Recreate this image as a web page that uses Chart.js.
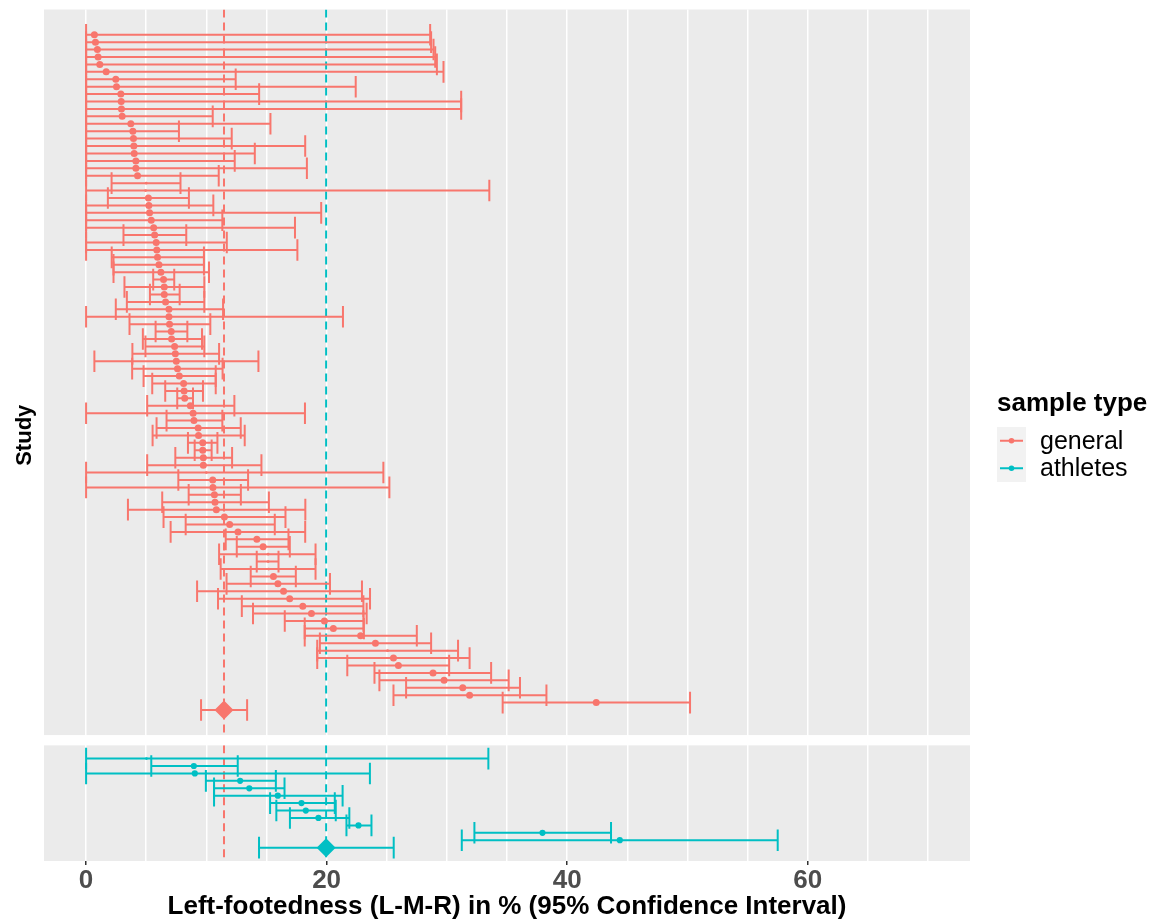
<!DOCTYPE html>
<html><head><meta charset="utf-8">
<script src="https://cdn.jsdelivr.net/npm/chart.js@4/dist/chart.umd.min.js"></script>
<style>html,body{margin:0;padding:0;background:#fff;} #wrap{width:1163px;height:921px;position:relative;}</style>
</head><body><div id="wrap"><canvas id="c" width="1163" height="921"></canvas></div>
<script>
// ---------------- data ----------------
const sampleTypes = ['general', 'athletes'];
const generalEst = [0.69,0.78,0.94,1.00,1.14,1.67,2.47,2.53,2.89,2.92,2.94,3.00,3.72,3.89,3.94,3.97,4.00,4.14,4.14,4.28,
 5.00,4.95,5.18,5.22,5.28,5.42,5.62,5.70,5.83,5.88,5.94,6.06,6.22,6.44,6.50,6.50,6.61,6.89,6.89,6.94,
 7.08,7.11,7.36,7.42,7.50,7.60,7.75,8.11,8.15,8.20,8.67,8.90,8.97,9.32,9.35,9.70,9.70,9.75,9.75,10.00,
 10.53,10.55,10.67,10.72,10.83,11.50,11.94,12.63,14.20,14.72,15.14,15.14,15.19,15.58,15.95,16.42,16.93,18.02,18.74,19.82,
 20.56,22.83,24.06,25.07,25.56,25.97,28.85,29.77,31.32,31.89,42.42];
const generalLo = [0,0,0,0,0,0,0,0,0,0,0,0,0,0,0,0,0,0,0,0,
 2.12,0,1.81,0,0,0,0,3.11,0,0,2.13,2.28,2.28,5.58,3.19,5.31,3.39,2.47,0,3.61,
 5.78,4.72,4.94,3.85,0.69,3.83,4.78,5.50,6.58,7.58,5.08,0,6.69,5.86,5.53,8.47,9.03,7.42,5.08,0,
 7.67,0,8.53,6.33,3.48,6.44,8.28,7.03,11.61,12.53,11.06,14.19,11.19,13.69,11.68,9.23,10.97,12.95,13.88,16.52,
 18.18,18.18,19.44,19.22,19.22,21.72,23.98,24.39,26.61,25.56,34.64];
const generalHi = [28.61,28.69,28.89,29.03,29.17,29.72,12.44,22.42,14.39,31.19,31.19,10.53,15.33,7.72,12.11,18.22,14.03,12.36,18.36,11.03,
 7.85,33.53,8.55,10.58,19.55,11.33,17.37,8.33,11.70,17.57,9.80,9.80,10.22,7.33,9.83,7.78,9.83,11.39,21.36,10.33,
 8.42,9.64,9.83,11.06,14.33,11.35,10.78,10.78,9.72,8.89,12.33,18.20,11.33,12.86,13.19,10.92,10.44,12.14,14.58,24.72,
 13.47,25.22,12.87,15.20,18.23,16.58,15.69,18.22,16.83,16.94,19.08,16.00,19.08,17.44,20.28,22.94,23.61,23.06,23.33,23.06,
 23.10,27.50,28.69,30.93,31.89,30.19,33.68,35.14,36.08,38.28,50.22];
const generalTinyStudies = [21,22,60,71,72,73,84];

const athletesEst = [5.02,8.96,9.04,12.81,13.57,15.94,17.91,18.27,19.32,22.65,37.95,44.38];
const athletesLo  = [0,5.42,0,9.96,10.64,10.64,15.30,15.82,16.95,21.65,32.29,31.24];
const athletesHi  = [33.45,12.61,23.60,15.78,16.50,21.33,20.68,20.76,21.89,23.73,43.65,57.51];
const athletesTinyStudies = [1];

const pooledEst = [11.47, 19.96];
const pooledLo  = [9.56, 14.38];
const pooledHi  = [13.39, 25.58];

const xGridValues  = [0,5,10,15,20,25,30,35,40,45,50,55,60,65,70];
const xLabelValues = [0,20,40,60];
const xTitle = 'Left-footedness (L-M-R) in % (95% Confidence Interval)';
const yTitle = 'Study';
const legendTitle = 'sample type';

// ---------------- layout (row units) ----------------
const COLORS = {general: '#F8766D', athletes: '#00BFC4'};
const TOP_PAD = 3.4, TOP_SPAN = 2 * 3.4 + generalEst.length;
const GAP = 1.345;
const BOT_PAD = 1.8, BOT_SPAN = 2 * 1.8 + athletesEst.length;
const Y_TOTAL = TOP_SPAN + GAP + BOT_SPAN;
const CAP = 10.8;
const FONT = '"Liberation Sans", Arial, sans-serif';

const topRow = i => TOP_PAD + i;
const botRow = i => TOP_SPAN + GAP + BOT_PAD + i;

const genPoints = generalEst.map((v, i) => ({x: v, y: topRow(i)}));
const athPoints = athletesEst.map((v, i) => ({x: v, y: botRow(i)}));
const genBars = generalEst.map((v, i) => ({y: topRow(i), lo: generalLo[i], hi: generalHi[i]}));
const athBars = athletesEst.map((v, i) => ({y: botRow(i), lo: athletesLo[i], hi: athletesHi[i]}));
const poolPts = [
  {x: pooledEst[0], y: topRow(generalEst.length)},
  {x: pooledEst[1], y: botRow(athletesEst.length)}
];
const poolBars = [
  {y: poolPts[0].y, lo: pooledLo[0], hi: pooledHi[0], color: COLORS.general},
  {y: poolPts[1].y, lo: pooledLo[1], hi: pooledHi[1], color: COLORS.athletes}
];
const vline = m => [{x: m, y: 0}, {x: m, y: TOP_SPAN}, {x: m, y: null}, {x: m, y: TOP_SPAN + GAP}, {x: m, y: Y_TOTAL}];

// ---------------- plugins ----------------
const panelPlugin = {
  id: 'panels',
  beforeDraw(chart) {
    const {ctx, chartArea: a, scales: {y}} = chart;
    ctx.save();
    ctx.fillStyle = '#EBEBEB';
    const t0 = y.getPixelForValue(0), t1 = y.getPixelForValue(TOP_SPAN);
    const b0 = y.getPixelForValue(TOP_SPAN + GAP), b1 = y.getPixelForValue(Y_TOTAL);
    ctx.fillRect(a.left, t0, a.right - a.left, t1 - t0);
    ctx.fillRect(a.left, b0, a.right - a.left, b1 - b0);
    ctx.restore();
  },
  afterDatasetsDraw(chart) {
    const {ctx, chartArea: a, scales: {y}} = chart;
    ctx.save();
    ctx.fillStyle = '#FFFFFF';
    const g0 = y.getPixelForValue(TOP_SPAN), g1 = y.getPixelForValue(TOP_SPAN + GAP);
    ctx.fillRect(a.left, g0, a.right - a.left, g1 - g0);
    ctx.restore();
  }
};

const errorBarPlugin = {
  id: 'errorBars',
  beforeDatasetDraw(chart, args) {
    const ds = chart.data.datasets[args.index];
    if (!ds.errorBars) return;
    const {ctx, scales: {x, y}} = chart;
    ctx.save();
    ctx.lineWidth = 2;
    ds.errorBars.forEach(b => {
      const py = y.getPixelForValue(b.y);
      const x0 = x.getPixelForValue(b.lo), x1 = x.getPixelForValue(b.hi);
      ctx.strokeStyle = b.color || ds.borderColor;
      ctx.beginPath();
      ctx.moveTo(x0, py); ctx.lineTo(x1, py);
      ctx.moveTo(x0, py - CAP); ctx.lineTo(x0, py + CAP);
      ctx.moveTo(x1, py - CAP); ctx.lineTo(x1, py + CAP);
      ctx.stroke();
    });
    ctx.restore();
  }
};

const legendPlugin = {
  id: 'ggLegend',
  afterDraw(chart) {
    const ctx = chart.ctx;
    ctx.save();
    ctx.textBaseline = 'middle';
    ctx.textAlign = 'left';
    ctx.fillStyle = '#000';
    ctx.font = 'bold 26px ' + FONT;
    ctx.fillText(legendTitle, 997, 404);
    const keyX = 997, keyW = 29, keyH = 27.5, keyTop = 427;
    ctx.fillStyle = '#F2F2F2';
    ctx.fillRect(keyX, keyTop, keyW, keyH * sampleTypes.length);
    sampleTypes.forEach((s, i) => {
      const cy = keyTop + keyH * (i + 0.5);
      ctx.strokeStyle = COLORS[s];
      ctx.lineWidth = 2;
      ctx.beginPath(); ctx.moveTo(keyX + 3, cy); ctx.lineTo(keyX + keyW - 3, cy); ctx.stroke();
      ctx.fillStyle = COLORS[s];
      ctx.beginPath(); ctx.arc(keyX + keyW / 2, cy, 2.8, 0, Math.PI * 2); ctx.fill();
      ctx.fillStyle = '#000';
      ctx.font = '25px ' + FONT;
      ctx.fillText(s, 1040, cy + 1);
    });
    ctx.restore();
  }
};

// ---------------- chart ----------------
const ctx = document.getElementById('c').getContext('2d');
new Chart(ctx, {
  type: 'scatter',
  data: {
    datasets: [
      {label: 'mean general', data: vline(pooledEst[0]), showLine: true, borderColor: COLORS.general,
       borderWidth: 2, borderDash: [8, 5], pointRadius: 0, spanGaps: false, order: 5},
      {label: 'mean athletes', data: vline(pooledEst[1]), showLine: true, borderColor: COLORS.athletes,
       borderWidth: 2, borderDash: [8, 5], pointRadius: 0, spanGaps: false, order: 5},
      {label: 'general', data: genPoints, errorBars: genBars, borderColor: COLORS.general,
       backgroundColor: COLORS.general, pointBorderWidth: 0,
       pointRadius: c => generalTinyStudies.includes(c.dataIndex + 1) ? 1.4 : 3.5, order: 3},
      {label: 'athletes', data: athPoints, errorBars: athBars, borderColor: COLORS.athletes,
       backgroundColor: COLORS.athletes, pointBorderWidth: 0,
       pointRadius: c => athletesTinyStudies.includes(c.dataIndex + 1) ? 1.4 : 3.1, order: 3},
      {label: 'pooled', data: poolPts, errorBars: poolBars, pointStyle: 'rectRot',
       backgroundColor: [COLORS.general, COLORS.athletes], borderColor: [COLORS.general, COLORS.athletes],
       pointBorderWidth: 0, pointRadius: 9.5, order: 1}
    ]
  },
  options: {
    responsive: false,
    animation: false,
    devicePixelRatio: 1,
    layout: {padding: {left: 8, right: 193, top: 8, bottom: 0}},
    plugins: {legend: {display: false}, tooltip: {enabled: false}},
    elements: {point: {hoverRadius: 0}},
    scales: {
      x: {
        type: 'linear', min: -3.5, max: 73.5,
        afterBuildTicks: s => { s.ticks = xGridValues.map(v => ({value: v})); },
        afterFit: s => { s.height = 60; },
        ticks: {
          callback: v => xLabelValues.includes(v) ? String(v) : '',
          color: '#4D4D4D', padding: 3, maxRotation: 0, autoSkip: false,
          font: {family: FONT, size: 26, weight: 'bold', lineHeight: 1}
        },
        grid: {
          color: '#FFFFFF', lineWidth: 1.5, drawTicks: true, tickLength: 4, tickWidth: 1.5,
          tickColor: c => (c.tick && xLabelValues.includes(c.tick.value)) ? '#333333' : 'rgba(0,0,0,0)'
        },
        border: {display: false},
        title: {
          display: true, text: xTitle, color: '#000',
          font: {family: FONT, size: 26, weight: 'bold', lineHeight: 1},
          padding: {top: 4, bottom: 1}
        }
      },
      y: {
        type: 'linear', reverse: true, min: 0, max: Y_TOTAL,
        afterFit: s => { s.width = 36; },
        ticks: {display: false},
        grid: {display: false, drawTicks: false},
        border: {display: false},
        title: {
          display: true, text: yTitle, color: '#000',
          font: {family: FONT, size: 22, weight: 'bold', lineHeight: 1.2},
          padding: {top: 4, bottom: 8}
        }
      }
    }
  },
  plugins: [panelPlugin, errorBarPlugin, legendPlugin]
});
</script>
</body></html>
